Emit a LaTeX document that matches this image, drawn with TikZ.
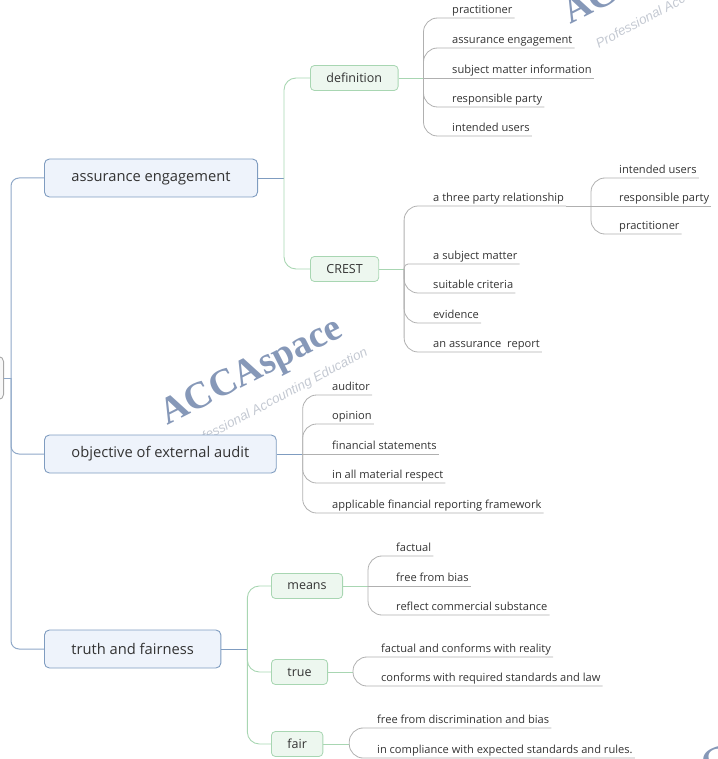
\documentclass[tikz,border=0pt]{standalone}
\usepackage{fontspec}
\setmainfont{Open Sans}
\newfontfamily\wmserif{Liberation Serif}
\newfontfamily\wmsans{Liberation Sans}
\usetikzlibrary{positioning}

\definecolor{inktext}{HTML}{333333}
\definecolor{topicfill}{HTML}{EEF3FB}
\definecolor{topicdraw}{HTML}{7F9CC0}
\definecolor{rootline}{HTML}{8FA8C8}
\definecolor{subfill}{HTML}{EDF7EF}
\definecolor{subdraw}{HTML}{A8D6B2}
\definecolor{leafline}{HTML}{B0B0B0}
\definecolor{wmblue}{HTML}{8698B8}
\definecolor{wmgray}{HTML}{C4C9D2}

\tikzset{
  topicbox/.style={draw=topicdraw, fill=topicfill, rounded corners=5pt, line width=0.9pt,
    inner xsep=27pt, minimum height=38pt, anchor=west, text=inktext,
    font=\fontsize{14.7}{17}\selectfont},
  subbox/.style={draw=subdraw, fill=subfill, rounded corners=4pt, line width=0.8pt,
    inner xsep=16pt, minimum height=25pt, anchor=west, text=inktext,
    font=\fontsize{12.5}{15}\selectfont},
  leaf/.style={anchor=south west, inner xsep=2pt, inner ysep=1.5pt, text height=8pt,
    text depth=3pt, text=inktext, font=\fontsize{11.1}{13}\selectfont},
  rootlink/.style={draw=rootline, line width=1pt, rounded corners=8pt},
  topiclink/.style={draw=topicdraw, line width=0.9pt},
  sublink/.style={draw=subdraw, line width=0.9pt, rounded corners=12pt},
  leaflink/.style={draw=leafline, line width=0.8pt, rounded corners=14pt},
  wmbig/.style={rotate=27, text=wmblue, font=\wmserif\bfseries\fontsize{38}{38}\selectfont},
  wmsmall/.style={rotate=28, text=wmgray, font=\wmsans\itshape\fontsize{13.3}{13}\selectfont},
}

\begin{document}
\begin{tikzpicture}[x=1pt, y=-1pt]
\useasboundingbox (0,0) rectangle (717,759);

% watermarks (under everything)
\node[wmbig] (wm1) at (252,373) {ACCAspace};
\node[wmsmall] (wm1s) at (276,400) {Professional Accounting Education};
\node[wmbig] (wm2) at (655,-28) {ACCAspace};
\node[wmsmall] (wm2s) at (688,-3) {Professional Accounting Education};
\node[wmbig] (wm3) at (770,738) {ACCAspace};

% root (cut off at the left edge)
\node[draw=gray!70, fill=gray!6, rounded corners=5pt, line width=0.9pt,
  minimum width=60pt, minimum height=43pt, anchor=east] (root) at (4,378) {};
\coordinate (rootstem) at (11,378);

% main topics
\node[topicbox] (ae) at (44,178) {assurance engagement};
\node[topicbox] (oa) at (44,454) {objective of external audit};
\node[topicbox] (tf) at (44,649) {truth and fairness};

\draw[rootlink] (root.east) -- (rootstem);
\draw[rootlink] (rootstem) |- (ae.west);
\draw[rootlink] (rootstem) |- (oa.west);
\draw[rootlink] (rootstem) |- (tf.west);

% assurance engagement
\node[subbox] (def) at (310,78) {definition};
\node[subbox] (crest) at (310,269) {CREST};
\coordinate (aestem) at ([xshift=26pt]ae.east);
\draw[topiclink] (ae.east) -- (aestem);
\draw[sublink] (aestem) |- (def.west);
\draw[sublink] (aestem) |- (crest.west);

% definition leaves
\node[leaf] (def1) at (450,18) {practitioner};
\node[leaf] (def2) at (450,48) {assurance engagement};
\node[leaf] (def3) at (450,78) {subject matter information};
\node[leaf] (def4) at (450,107) {responsible party};
\node[leaf] (def5) at (450,136) {intended users};
\coordinate (defstem) at ([xshift=25pt]def.east);
\draw[subdraw, line width=0.9pt] (def.east) -- (defstem);
\foreach \n in {def1,def2,def4,def5}
  \draw[leaflink] (defstem) |- (\n.south west) -- (\n.south east);
\draw[leaflink] (defstem) -- (def3.south east);

% CREST leaves
\node[leaf] (cr1) at (431,206) {a three party relationship};
\node[leaf] (cr2) at (431,264) {a subject matter};
\node[leaf] (cr3) at (431,293) {suitable criteria};
\node[leaf] (cr4) at (431,323) {evidence};
\node[leaf] (cr5) at (431,352) {an assurance\ \ report};
\coordinate (crstem) at ([xshift=25pt]crest.east);
\draw[subdraw, line width=0.9pt] (crest.east) -- (crstem);
\foreach \n in {cr1,cr3,cr4,cr5}
  \draw[leaflink] (crstem) |- (\n.south west) -- (\n.south east);
\draw[leaflink, rounded corners=4pt] (crstem) |- (cr2.south west) -- (cr2.south east);

% three party relationship
\node[leaf] (tp1) at (617,178) {intended users};
\node[leaf] (tp2) at (617,206) {responsible party};
\node[leaf] (tp3) at (617,234) {practitioner};
\coordinate (tpstem) at (591,206);
\draw[leaflink] (cr1.south east) -- (tp2.south east);
\draw[leaflink] (tpstem) |- (tp1.south west) -- (tp1.south east);
\draw[leaflink] (tpstem) |- (tp3.south west) -- (tp3.south east);

% objective of external audit
\node[leaf] (oa1) at (330,395) {auditor};
\node[leaf] (oa2) at (330,424) {opinion};
\node[leaf] (oa3) at (330,454) {financial statements};
\node[leaf] (oa4) at (330,483) {in all material respect};
\node[leaf] (oa5) at (330,513) {applicable financial reporting framework};
\coordinate (oastem) at ([xshift=26pt]oa.east);
\draw[topiclink] (oa.east) -- (oastem);
\foreach \n in {oa1,oa2,oa4,oa5}
  \draw[leaflink] (oastem) |- (\n.south west) -- (\n.south east);
\draw[leaflink] (oastem) -- (oa3.south east);

% truth and fairness
\node[subbox] (mn) at (271,586) {means};
\node[subbox] (tr) at (271,672) {true};
\node[subbox] (fr) at (271,744) {fair};
\coordinate (tfstem) at ([xshift=26pt]tf.east);
\draw[topiclink] (tf.east) -- (tfstem);
\draw[sublink] (tfstem) |- (mn.west);
\draw[sublink] (tfstem) |- (tr.west);
\draw[sublink] (tfstem) |- (fr.west);

% means
\node[leaf] (mn1) at (394,556) {factual};
\node[leaf] (mn2) at (394,586) {free from bias};
\node[leaf] (mn3) at (394,615) {reflect commercial substance};
\coordinate (mnstem) at ([xshift=25pt]mn.east);
\draw[subdraw, line width=0.9pt] (mn.east) -- (mnstem);
\draw[leaflink] (mnstem) |- (mn1.south west) -- (mn1.south east);
\draw[leaflink] (mnstem) -- (mn2.south east);
\draw[leaflink] (mnstem) |- (mn3.south west) -- (mn3.south east);

% true
\node[leaf] (tr1) at (379,657) {factual and conforms with reality};
\node[leaf] (tr2) at (379,686) {conforms with required standards and law};
\coordinate (trstem) at ([xshift=25pt]tr.east);
\draw[subdraw, line width=0.9pt] (tr.east) -- (trstem);
\foreach \n in {tr1,tr2}
  \draw[leaflink] (trstem) |- (\n.south west) -- (\n.south east);

% fair
\node[leaf] (fr1) at (375,728) {free from discrimination and bias};
\node[leaf] (fr2) at (375,758) {in compliance with expected standards and rules.};
\coordinate (frstem) at ([xshift=26pt]fr.east);
\draw[subdraw, line width=0.9pt] (fr.east) -- (frstem);
\foreach \n in {fr1,fr2}
  \draw[leaflink] (frstem) |- (\n.south west) -- (\n.south east);
\end{tikzpicture}
\end{document}
